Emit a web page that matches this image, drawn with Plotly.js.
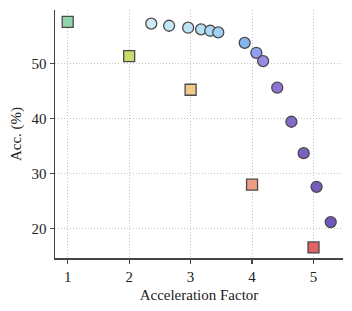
<!DOCTYPE html>
<html><head><meta charset="utf-8">
<script src="https://cdn.plot.ly/plotly-3.0.1.min.js"></script>
<style>html,body{margin:0;padding:0;background:#fff}#chart{width:352px;height:311px}</style>
</head><body><div id="chart"></div>
<script>
// Baseline methods (squares)
const squareX = [1, 2, 3, 4, 5];
const squareY = [57.5, 51.3, 45.2, 28.0, 16.6];
const squareColors = ['#8fd4aa', '#c6dc6c', '#efca8c', '#ef9c84', '#e06262'];
// Our method sweep (circles)
const circleX = [2.36, 2.65, 2.96, 3.17, 3.32, 3.45, 3.88, 4.07, 4.18, 4.41, 4.64, 4.84, 5.05, 5.28];
const circleY = [57.2, 56.8, 56.45, 56.15, 55.9, 55.6, 53.7, 51.9, 50.4, 45.6, 39.4, 33.7, 27.6, 21.2];
const circleColors = ['#cdeaf6', '#c4e6f6', '#bde3f5', '#b4def4', '#acd8f3', '#a0d0f2',
                      '#86b4ef', '#929ff0', '#9a8ae8', '#8f74d8', '#8468cc', '#7c60c4', '#775cbf', '#7358bb'];
const xTicks = [1, 2, 3, 4, 5];
const yTicks = [20, 30, 40, 50];

const fontFam = 'Liberation Serif, DejaVu Serif, serif';
const traces = [
  {x: circleX, y: circleY, mode: 'markers', type: 'scatter',
   marker: {symbol: 'circle', size: 11, color: circleColors, line: {color: '#4a4a4a', width: 1.3}}},
  {x: squareX, y: squareY, mode: 'markers', type: 'scatter',
   marker: {symbol: 'square', size: 11, color: squareColors, line: {color: '#4a4a4a', width: 1.3}}}
];
const layout = {
  width: 352, height: 311,
  margin: {l: 55, r: 9, t: 10, b: 53},
  showlegend: false,
  paper_bgcolor: '#fff', plot_bgcolor: '#fff',
  font: {family: fontFam, color: '#222', size: 15},
  xaxis: {range: [0.793, 5.48], tickvals: xTicks, ticktext: xTicks.map(String),
    showgrid: true, gridcolor: '#c4c4c4', griddash: '1px,2px', gridwidth: 1,
    showline: true, linecolor: '#444', linewidth: 1.5, ticks: 'outside', ticklen: 4, tickcolor: '#444', tickwidth: 1.2,
    zeroline: false, tickfont: {size: 15, family: fontFam},
    title: {text: 'Acceleration Factor', font: {size: 15, family: fontFam}, standoff: 6}},
  yaxis: {range: [14.69, 59.66], tickvals: yTicks, ticktext: yTicks.map(String),
    showgrid: true, gridcolor: '#c4c4c4', griddash: '1px,2px', gridwidth: 1,
    showline: true, linecolor: '#444', linewidth: 1.5, ticks: 'outside', ticklen: 4, tickcolor: '#444', tickwidth: 1.2,
    zeroline: false, tickfont: {size: 15, family: fontFam},
    title: {text: 'Acc. (%)', font: {size: 15, family: fontFam}, standoff: 6}}
};
Plotly.newPlot('chart', traces, layout, {displayModeBar: false, staticPlot: true});
</script></body></html>
